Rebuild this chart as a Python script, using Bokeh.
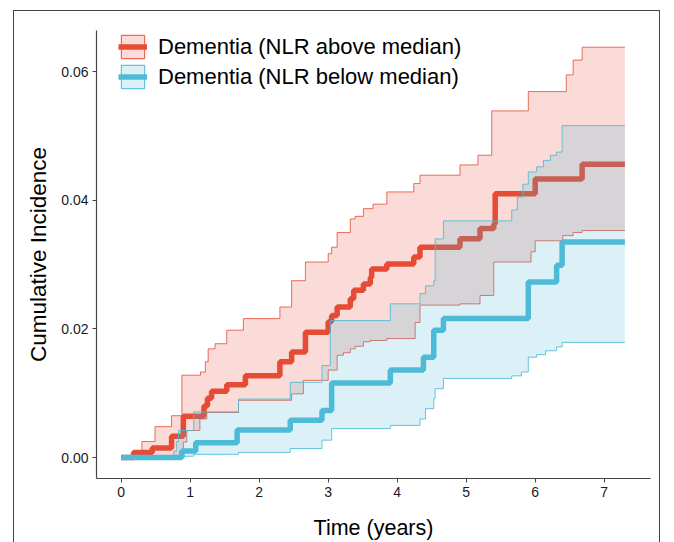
from bokeh.plotting import figure
from bokeh.models import (Range1d, FixedTicker, PrintfTickFormatter, Legend, LegendItem,
                          InlineStyleSheet)
from bokeh.embed import file_html
from bokeh.resources import INLINE

# ---------------- data ----------------
x_ticks = [0, 1, 2, 3, 4, 5, 6, 7]
y_ticks = [0.00, 0.02, 0.04, 0.06]

label_above = "Dementia (NLR above median)"
label_below = "Dementia (NLR below median)"

# cumulative incidence, NLR above median (step "after")
above_t = [0, 0.18, 0.45, 0.73, 0.90, 1.20, 1.25, 1.31, 1.53, 1.80, 2.30, 2.47, 2.67,
           3.00, 3.05, 3.13, 3.32, 3.37, 3.51, 3.61, 3.63, 3.85, 4.24, 4.33, 4.91,
           5.20, 5.40, 5.42, 6.00, 6.68, 7.30]
above_y = [0, 0.0008, 0.0015, 0.0033, 0.0064, 0.0080, 0.0092, 0.0103, 0.0113, 0.0127,
           0.0149, 0.0164, 0.0195, 0.0211, 0.0221, 0.0234, 0.0247, 0.0260, 0.0270,
           0.0280, 0.0293, 0.0301, 0.0312, 0.0327, 0.0340, 0.0356, 0.0363, 0.0410,
           0.0433, 0.0456, 0.0456]
# upper / lower confidence limits, NLR above median
above_up_t = [0, 0.16, 0.30, 0.49, 0.73, 0.88, 1.15, 1.22, 1.26, 1.36, 1.53, 1.77, 2.30,
              2.47, 2.67, 3.00, 3.05, 3.13, 3.32, 3.39, 3.51, 3.65, 3.85, 4.24, 4.33,
              4.91, 5.17, 5.37, 5.90, 6.45, 6.55, 6.68, 7.30]
above_up_y = [0, 0.0010, 0.0025, 0.0048, 0.0065, 0.0128, 0.0133, 0.0149, 0.0169, 0.0177,
              0.0198, 0.0216, 0.0234, 0.0275, 0.0304, 0.0317, 0.0327, 0.0350, 0.0371,
              0.0375, 0.0387, 0.0394, 0.0413, 0.0426, 0.0439, 0.0455, 0.0470, 0.0539,
              0.0569, 0.0595, 0.0618, 0.0638, 0.0638]
above_lo_t = [0.16, 0.85, 0.90, 0.95, 1.14, 1.24, 1.70, 2.47, 2.64, 3.00, 3.13, 3.22, 3.32,
              3.39, 3.51, 3.61, 3.85, 4.26, 4.33, 4.91, 5.20, 5.40, 5.94, 6.00, 6.40,
              6.55, 6.68, 7.30]
above_lo_y = [0, 0.0010, 0.0024, 0.0042, 0.0060, 0.0070, 0.0089, 0.0099, 0.0120, 0.0136,
              0.0159, 0.0163, 0.0169, 0.0173, 0.0180, 0.0182, 0.0185, 0.0210, 0.0237,
              0.0239, 0.0252, 0.0304, 0.0320, 0.0337, 0.0345, 0.0350, 0.0353, 0.0353]

# cumulative incidence, NLR below median
below_t = [0, 0.88, 1.08, 1.68, 2.45, 2.91, 3.05, 3.90, 4.38, 4.53, 4.67, 5.90, 6.31,
           6.39, 7.30]
below_y = [0, 0.0010, 0.0023, 0.0043, 0.0058, 0.0073, 0.0116, 0.0136, 0.0156, 0.0198,
           0.0216, 0.0273, 0.0299, 0.0335, 0.0335]
below_up_t = [0, 0.76, 0.80, 0.83, 1.05, 1.70, 2.45, 2.91, 3.03, 3.90, 4.33, 4.41, 4.53,
              4.55, 4.67, 5.66, 5.74, 5.82, 5.90, 6.02, 6.12, 6.22, 6.31, 6.39, 7.30]
below_up_y = [0, 0.0010, 0.0025, 0.0042, 0.0071, 0.0091, 0.0117, 0.0143, 0.0213, 0.0239,
              0.0255, 0.0267, 0.0275, 0.0340, 0.0368, 0.0385, 0.0405, 0.0425, 0.0444,
              0.0452, 0.0462, 0.0470, 0.0475, 0.0516, 0.0516]
below_lo_t = [0, 0.88, 1.05, 1.70, 2.45, 2.91, 3.05, 3.90, 4.33, 4.41, 4.53, 4.55, 4.67,
              5.66, 5.80, 5.90, 6.02, 6.15, 6.31, 6.39, 7.30]
below_lo_y = [0, 0.0002, 0.0005, 0.0008, 0.0014, 0.0027, 0.0045, 0.0050, 0.0060, 0.0076,
              0.0092, 0.0107, 0.0123, 0.0127, 0.0133, 0.0156, 0.0160, 0.0166, 0.0172,
              0.0179, 0.0179]

RED = "#E64B35"
BLUE = "#4DBBD5"
FONT = "Liberation Sans"


def stairs(t, y):
    xs, ys = [t[0]], [y[0]]
    for i in range(1, len(t)):
        xs += [t[i], t[i]]
        ys += [y[i - 1], y[i]]
    return xs, ys


border_css = InlineStyleSheet(css="""
:host { position: relative; overflow: hidden; }
:host::after {
  content: ""; position: absolute; left: 13px; top: 10px; right: 2px; bottom: -6px;
  border: 1.3px solid #444444; pointer-events: none;
}
""")

p = figure(width=662, height=542, output_backend="svg", toolbar_location=None,
           x_range=Range1d(-0.358, 7.671), y_range=Range1d(-0.00326, 0.0664),
           min_border_left=96, min_border_right=12, min_border_top=30,
           min_border_bottom=63, stylesheets=[border_css])
p.outline_line_color = None
p.xgrid.visible = False
p.ygrid.visible = False
p.background_fill_color = "white"
p.border_fill_color = "white"


def band(tu, yu, tl, yl, color, line_alpha):
    ux, uy = stairs(tu, yu)
    lx, ly = stairs(tl, yl)
    xs, ys = ux + lx[::-1], uy + ly[::-1]
    p.patch(xs, ys, fill_color=color, fill_alpha=0.2, line_color=None)
    p.line(ux, uy, line_color=color, line_alpha=line_alpha, line_width=1)
    p.line(lx, ly, line_color=color, line_alpha=line_alpha, line_width=1)
    # hidden copy, used only for the legend key (filled box with outline)
    return p.patch(xs, ys, fill_color=color, fill_alpha=0.2, line_color=color,
                   line_alpha=line_alpha, line_width=1.2, visible=False)


r_box = band(above_up_t, above_up_y, above_lo_t, above_lo_y, RED, 0.8)
r_line = p.step(above_t, above_y, mode="after", line_color=RED, line_width=5.5)
b_box = band(below_up_t, below_up_y, below_lo_t, below_lo_y, BLUE, 0.85)
b_line = p.step(below_t, below_y, mode="after", line_color=BLUE, line_width=5.5)

legend = Legend(items=[LegendItem(label=label_above, renderers=[r_box, r_line]),
                       LegendItem(label=label_below, renderers=[b_box, b_line])],
                location=(22, 387), padding=0, margin=0, spacing=1,
                glyph_width=29, glyph_height=29, label_height=29, label_standoff=11,
                border_line_color=None, background_fill_alpha=0,
                label_text_font=FONT, label_text_font_size="22px",
                label_text_color="black")
p.add_layout(legend)

for ax in (p.xaxis[0], p.yaxis[0]):
    ax.axis_line_color = "#444444"
    ax.axis_line_width = 1.2
    ax.major_tick_line_color = "#444444"
    ax.major_tick_line_width = 1
    ax.major_tick_out = 4
    ax.major_tick_in = 0
    ax.minor_tick_line_color = None
    ax.major_label_text_font = FONT
    ax.major_label_text_font_size = "14px"
    ax.major_label_text_color = "#1a1a1a"
    ax.axis_label_text_font = FONT
    ax.axis_label_text_font_style = "normal"
    ax.axis_label_text_color = "black"

p.xaxis.axis_label_text_font_size = "21.5px"
p.yaxis.axis_label_text_font_size = "22.5px"
p.xaxis.ticker = FixedTicker(ticks=x_ticks)
p.yaxis.ticker = FixedTicker(ticks=y_ticks)
p.yaxis.formatter = PrintfTickFormatter(format="%.2f")
p.xaxis.axis_label = "Time (years)"
p.yaxis.axis_label = "Cumulative Incidence"
p.xaxis.major_label_standoff = 4
p.yaxis.major_label_standoff = 4
p.xaxis.axis_label_standoff = 16
p.yaxis.axis_label_standoff = 7

open("out.html", "w").write(file_html(p, INLINE))
